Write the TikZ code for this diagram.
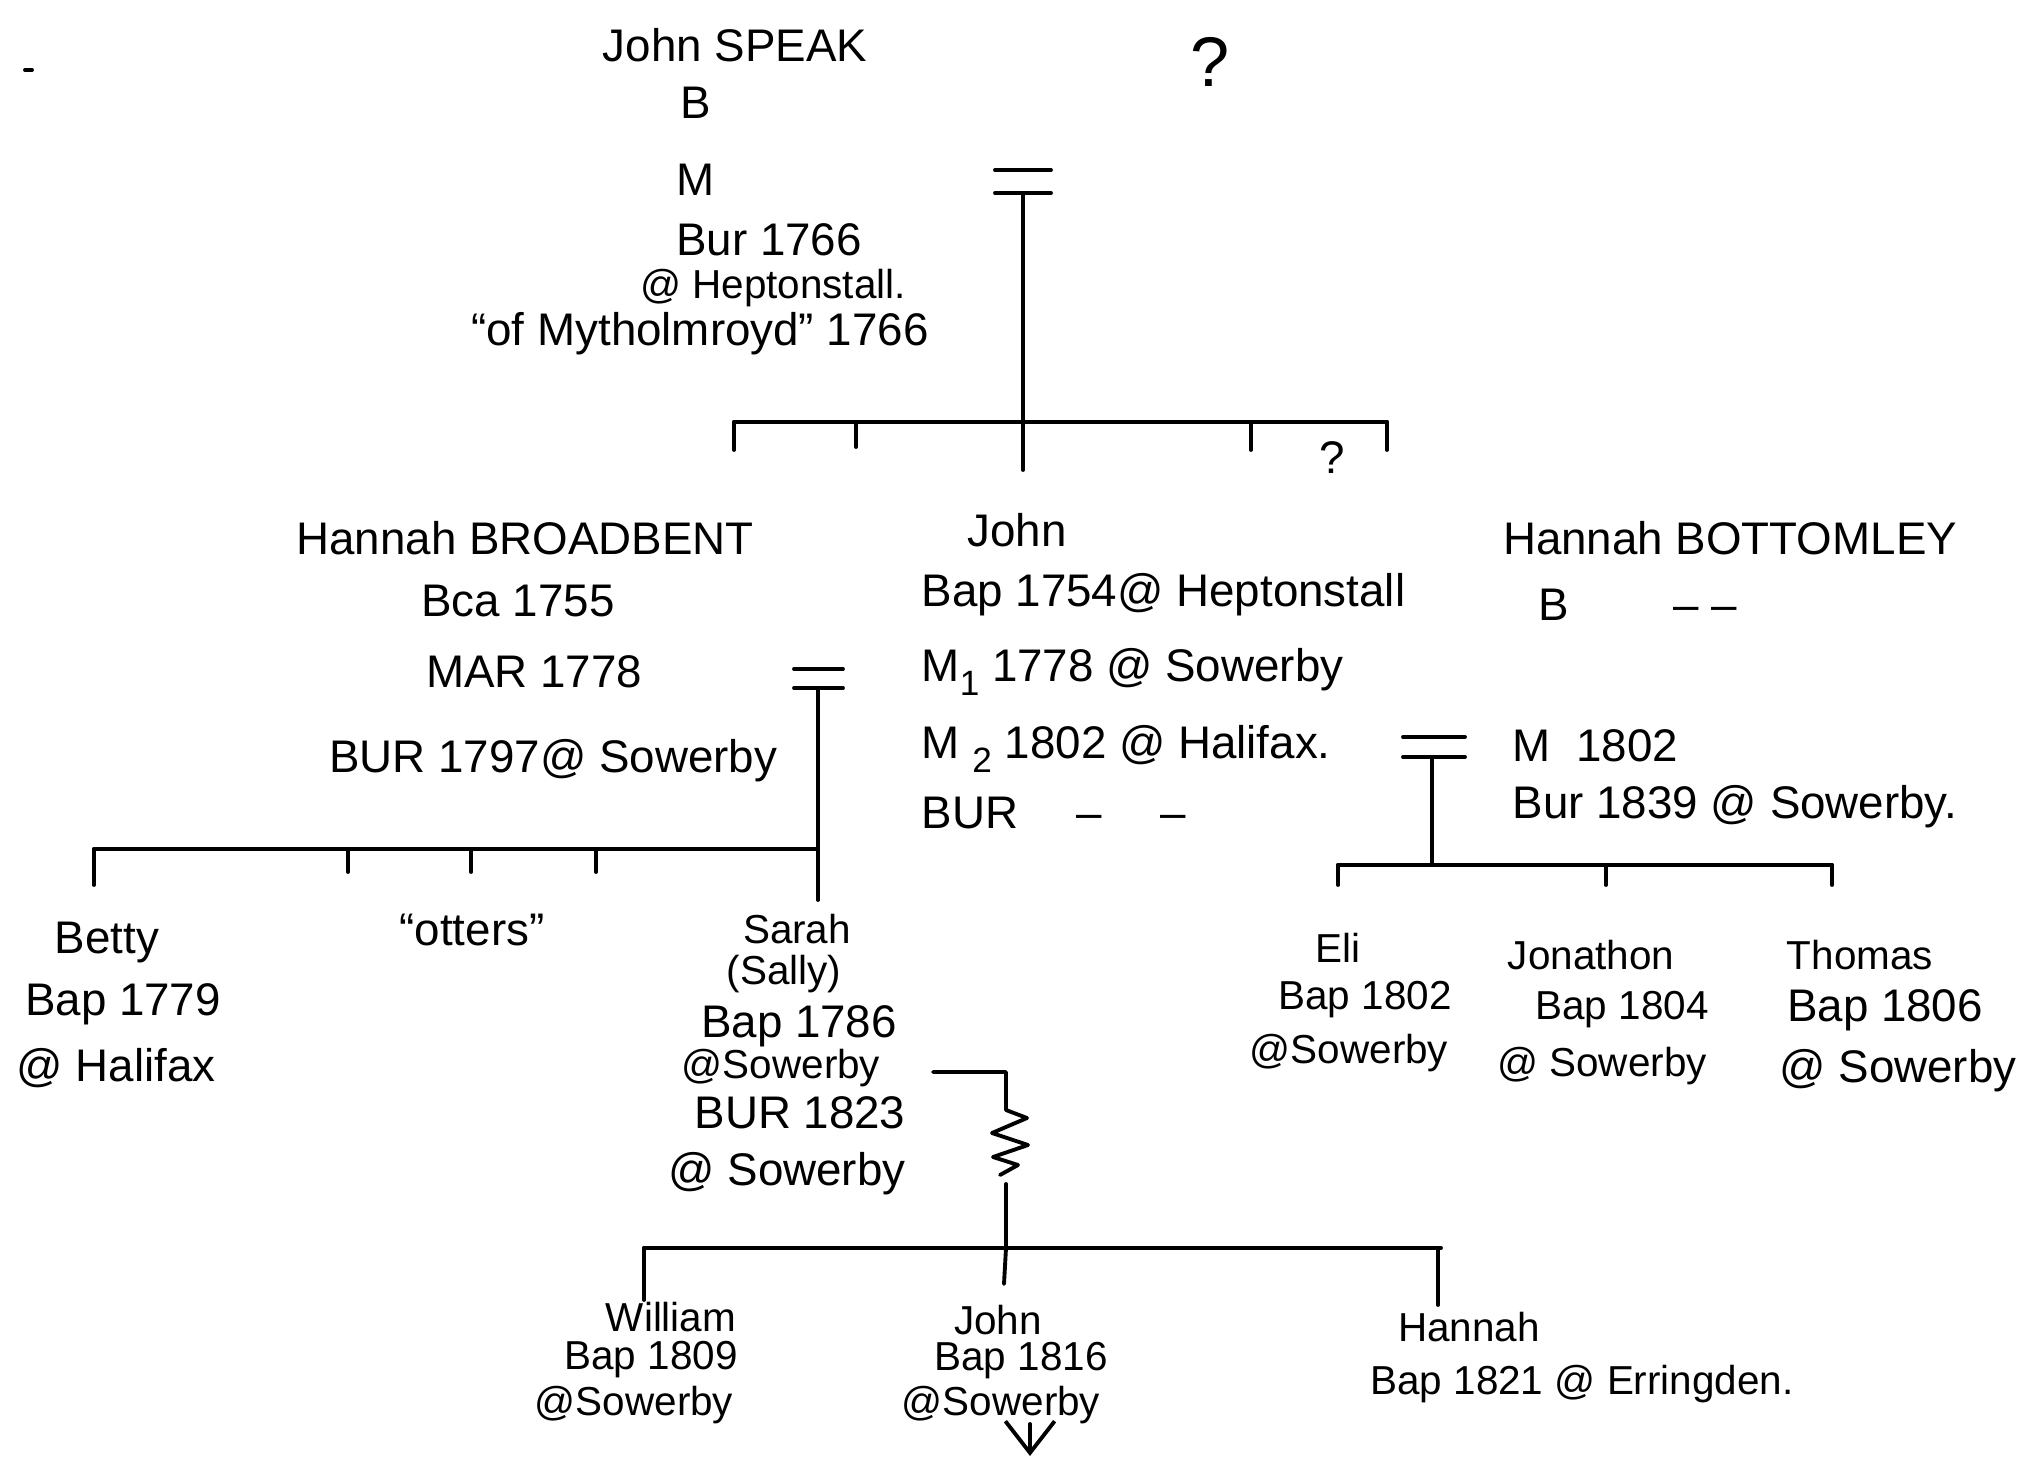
\documentclass[tikz,border=0pt]{standalone}
\usepackage{fontspec}
\setmainfont{Liberation Sans}
\usetikzlibrary{arrows.meta}
\begin{document}
\begin{tikzpicture}[x=0.01cm,y=-0.01cm,
  txt/.style={inner sep=0pt,font=\fontsize{13}{15}\selectfont},
  sm/.style={inner sep=0pt,font=\fontsize{11.5}{13}\selectfont},
  big/.style={inner sep=0pt,font=\fontsize{20}{22}\selectfont},
  ln/.style={line width=1.1pt,line cap=round}]
\useasboundingbox (0,0) rectangle (2018,1458);
% ---- generation 1
\node[txt] (js) at (735,45) {John SPEAK};
\node[txt] (jsb) at (696,103) {B};
\node[txt] (jsm) at (696,180) {M};
\node[txt] (jsbur) at (769,240) {Bur 1766};
\node[sm] (jshep) at (773,288) {@ Heptonstall.};
\node[txt] (jsof) at (700,334) {“of Mytholmroyd” 1766};
\node[big] (q1) at (1210,62) {?};
\node[txt] (q2) at (1332,458) {?};
% marriage 1
\coordinate (m1a) at (995,170); \coordinate (m1b) at (1051,170);
\coordinate (m1c) at (995,193); \coordinate (m1d) at (1051,193);
\coordinate (m1top) at (1023,193); \coordinate (m1bot) at (1023,470);
\draw[ln] (m1a) -- (m1b); \draw[ln] (m1c) -- (m1d);
\draw[ln] (m1top) -- (m1bot);
\coordinate (s1l) at (734,422); \coordinate (s1r) at (1387,422);
\draw[ln] (s1l) -- (s1r);
\coordinate (t1a) at (734,450); \coordinate (t1b) at (856,422); \coordinate (t1bb) at (856,447);
\coordinate (t1c) at (1251,422); \coordinate (t1cc) at (1251,450); \coordinate (t1d) at (1387,450);
\draw[ln] (s1l) -- (t1a); \draw[ln] (t1b) -- (t1bb); \draw[ln] (t1c) -- (t1cc); \draw[ln] (s1r) -- (t1d);
% ---- generation 2
\node[txt] (hbr) at (525,538) {Hannah BROADBENT};
\node[txt] (hbr1) at (518,601) {Bca 1755};
\node[txt] (hbr2) at (534,672) {MAR 1778};
\node[txt,anchor=east] (hbr3) at (778,761) {BUR 1797@ Sowerby};
\node[txt] (jo) at (1017,530) {John};
\node[txt,anchor=west] (jo1) at (921,595) {Bap 1754@ Heptonstall};
\node[txt,anchor=west] (jo2) at (921,672) {M\raisebox{-0.6ex}{\fontsize{10}{12}\selectfont 1} 1778 @ Sowerby};
\node[txt,anchor=west] (jo3) at (921,749) {M \raisebox{-0.6ex}{\fontsize{10}{12}\selectfont 2} 1802 @ Halifax.};
\node[txt,anchor=west] (jo4) at (921,813) {BUR \quad – \quad –};
\node[txt] (hbo) at (1730,538) {Hannah BOTTOMLEY};
\node[txt,anchor=west] (hbo1) at (1538,605) {B \qquad – –};
\node[txt,anchor=west] (hbo2) at (1512,746) {M \ 1802};
\node[txt,anchor=west] (hbo3) at (1512,807) {Bur 1839 @ Sowerby.};
% marriage left
\coordinate (m2a) at (794,669); \coordinate (m2b) at (843,669);
\coordinate (m2c) at (794,688); \coordinate (m2d) at (843,688);
\coordinate (m2top) at (818,688); \coordinate (m2bot) at (818,900);
\draw[ln] (m2a) -- (m2b); \draw[ln] (m2c) -- (m2d);
\draw[ln] (m2top) -- (m2bot);
\coordinate (s2l) at (94,849); \coordinate (s2r) at (818,849);
\draw[ln] (s2l) -- (s2r);
\coordinate (t2a) at (94,885);
\coordinate (t2b) at (348,849); \coordinate (t2bb) at (348,872);
\coordinate (t2c) at (471,849); \coordinate (t2cc) at (471,872);
\coordinate (t2d) at (596,849); \coordinate (t2dd) at (596,872);
\draw[ln] (s2l) -- (t2a); \draw[ln] (t2b) -- (t2bb); \draw[ln] (t2c) -- (t2cc); \draw[ln] (t2d) -- (t2dd);
% marriage right
\coordinate (m3a) at (1403,737); \coordinate (m3b) at (1465,737);
\coordinate (m3c) at (1403,757); \coordinate (m3d) at (1465,757);
\coordinate (m3top) at (1432,757); \coordinate (m3bot) at (1432,865);
\draw[ln] (m3a) -- (m3b); \draw[ln] (m3c) -- (m3d);
\draw[ln] (m3top) -- (m3bot);
\coordinate (s3l) at (1338,865); \coordinate (s3r) at (1832,865);
\draw[ln] (s3l) -- (s3r);
\coordinate (t3a) at (1338,885); \coordinate (t3b) at (1606,865); \coordinate (t3bb) at (1606,885);
\coordinate (t3c) at (1832,885);
\draw[ln] (s3l) -- (t3a); \draw[ln] (t3b) -- (t3bb); \draw[ln] (s3r) -- (t3c);
% ---- generation 3
\node[txt] (be) at (107,943) {Betty};
\node[txt] (be1) at (123,1004) {Bap 1779};
\node[txt] (be2) at (116,1068) {@ Halifax};
\node[txt] (ot) at (472,930) {“otters”};
\node[sm] (sa) at (797,929) {Sarah};
\node[sm] (sa1) at (784,974) {(Sally)};
\node[txt] (sa2) at (799,1026) {Bap 1786};
\node[sm] (sa3) at (781,1068) {@Sowerby};
\node[txt] (sa4) at (800,1113) {BUR 1823};
\node[txt] (sa5) at (787,1174) {@ Sowerby};
\node[sm] (el) at (1338,948) {Eli};
\node[sm] (el1) at (1365,1000) {Bap 1802};
\node[sm] (el2) at (1349,1053) {@Sowerby};
\node[sm] (jn) at (1591,955) {Jonathon};
\node[sm] (jn1) at (1622,1010) {Bap 1804};
\node[sm] (jn2) at (1602,1066) {@ Sowerby};
\node[sm] (th) at (1860,955) {Thomas};
\node[txt] (th1) at (1885,1010) {Bap 1806};
\node[txt] (th2) at (1898,1071) {@ Sowerby};
% Sarah's union (zigzag)
\coordinate (z0) at (933,1072); \coordinate (z1) at (1006,1072);
\coordinate (z2) at (1006,1110);
\coordinate (z3) at (1027,1118); \coordinate (z4) at (992,1133);
\coordinate (z5) at (1028,1145); \coordinate (z6) at (993,1157);
\coordinate (z7) at (1018,1165); \coordinate (z8) at (1000,1175);
\coordinate (z9) at (1006,1184); \coordinate (z10) at (1006,1248);
\draw[ln,line join=round] (z0) -- (z1) -- (z2) -- (z3) -- (z4) -- (z5) -- (z6) -- (z7) -- (z8);
\draw[ln] (z9) -- (z10);
\coordinate (s4l) at (644,1248); \coordinate (s4r) at (1441,1248);
\draw[ln] (s4l) -- (s4r);
\coordinate (t4a) at (644,1300); \coordinate (t4b) at (1004,1284);
\coordinate (t4c) at (1438,1248); \coordinate (t4cc) at (1438,1305);
\draw[ln] (s4l) -- (t4a); \draw[ln] (z10) -- (t4b); \draw[ln] (t4c) -- (t4cc);
% ---- generation 4
\node[sm] (wi) at (671,1317) {William};
\node[sm] (wi1) at (651,1360) {Bap 1809};
\node[sm] (wi2) at (634,1405) {@Sowerby};
\node[sm] (jj) at (998,1320) {John};
\node[sm] (jj1) at (1021,1361) {Bap 1816};
\node[sm] (jj2) at (1001,1405) {@Sowerby};
\node[sm] (ha) at (1469,1327) {Hannah};
\node[sm] (ha1) at (1582,1384) {Bap 1821 @ Erringden.};
\coordinate (ar1) at (1030,1424); \coordinate (ar2) at (1030,1456);
\draw[ln,-{Straight Barb[length=9pt,width=14pt]}] (ar1) -- (ar2);
% small stray mark
\coordinate (sm1) at (25,70); \coordinate (sm2) at (32,70);
\draw[ln] (sm1) -- (sm2);
\end{tikzpicture}
\end{document}
